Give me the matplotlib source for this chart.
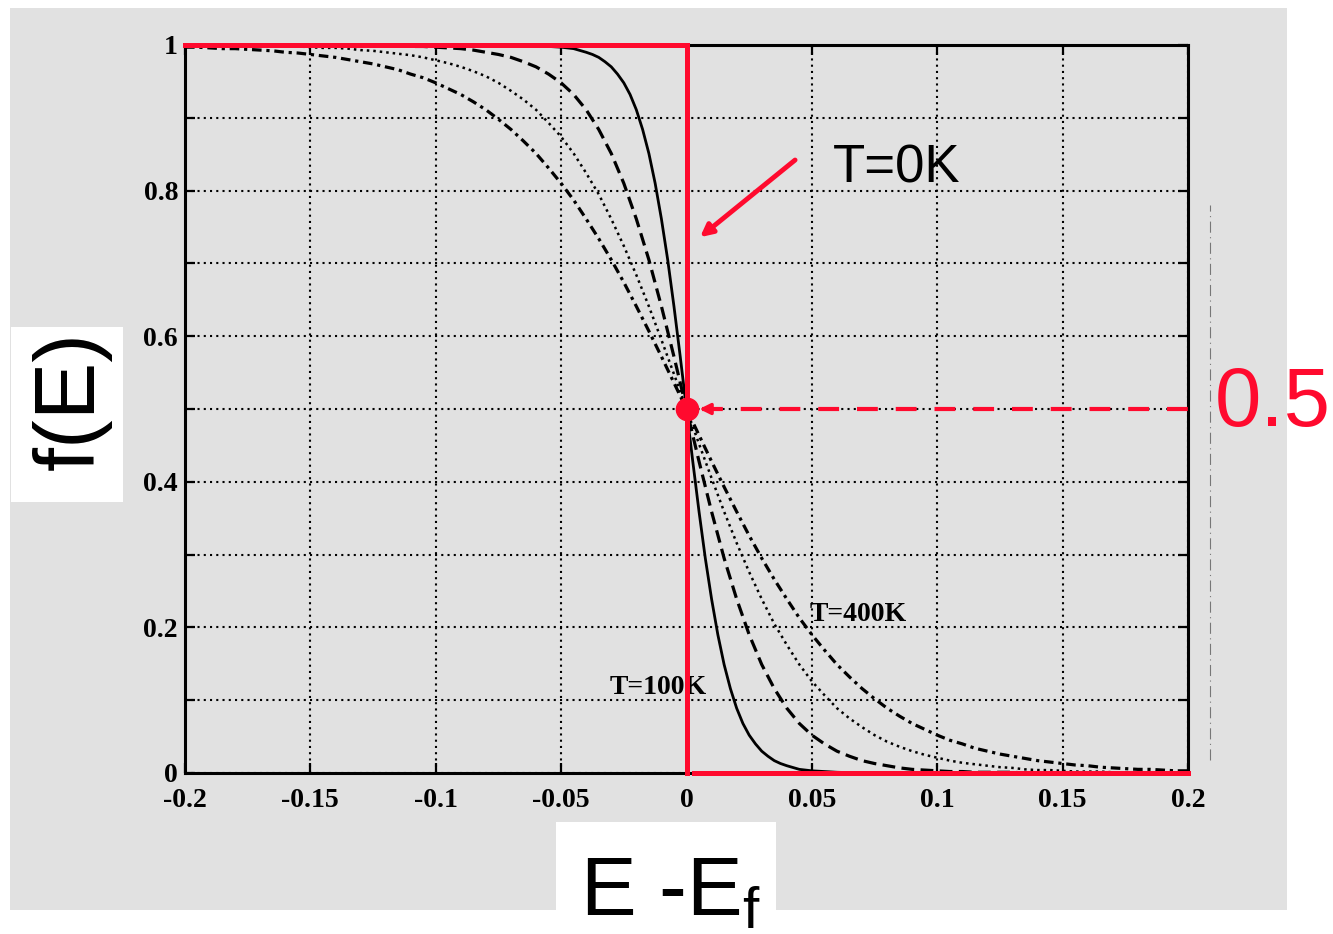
import numpy as np
import matplotlib
matplotlib.use("Agg")
import matplotlib.pyplot as plt
from matplotlib.patches import Rectangle
from matplotlib.lines import Line2D

# energy samples E - Ef (eV), f(E) values
energia = np.linspace(-0.2, 0.2, 81)

# T=100K is steep, so it is read on a finer grid around Ef
energia_100 = ([-0.2, -0.1, -0.07, -0.06, -0.055, -0.05, -0.045] +
               list(np.linspace(-0.04, 0.04, 33)) +
               [0.045, 0.05, 0.055, 0.06, 0.07, 0.1, 0.2])
f_100K = [1.0, 1.0, 1.0, 0.999, 0.998, 0.997, 0.995,
          0.990, 0.987, 0.983, 0.977, 0.970, 0.960, 0.948, 0.932, 0.911, 0.884, 0.851, 0.810,
          0.761, 0.705, 0.641, 0.572,
          0.5,
          0.428, 0.359, 0.295, 0.239, 0.190, 0.149, 0.116, 0.089, 0.068, 0.052, 0.040, 0.030,
          0.023, 0.017, 0.013, 0.010,
          0.005, 0.003, 0.002, 0.001, 0.0, 0.0, 0.0]

f_200K = ([1.0] * 14 +
          [0.999, 0.999, 0.999, 0.999, 0.998, 0.998, 0.997, 0.996, 0.995, 0.993, 0.990, 0.987, 0.983,
           0.977, 0.970, 0.960, 0.948, 0.932, 0.911, 0.884, 0.851, 0.810, 0.761, 0.705, 0.641, 0.572,
           0.5,
           0.428, 0.359, 0.295, 0.239, 0.190, 0.149, 0.116, 0.089, 0.068, 0.052, 0.040, 0.030, 0.023,
           0.017, 0.013, 0.010, 0.007, 0.005, 0.004, 0.003, 0.002, 0.002, 0.001, 0.001, 0.001, 0.001] +
          [0.0] * 14)

f_300K = [1.000, 0.999, 0.999, 0.999, 0.999, 0.999, 0.999, 0.998, 0.998, 0.998, 0.997, 0.996, 0.996,
          0.995, 0.993, 0.992, 0.990, 0.988, 0.986, 0.983, 0.979, 0.975, 0.970, 0.964, 0.957, 0.948,
          0.937, 0.925, 0.911, 0.893, 0.874, 0.851, 0.824, 0.795, 0.761, 0.724, 0.684, 0.641, 0.595,
          0.548,
          0.5,
          0.452, 0.405, 0.359, 0.316, 0.276, 0.239, 0.205, 0.176, 0.149, 0.126, 0.107, 0.089, 0.075,
          0.063, 0.052, 0.043, 0.036, 0.030, 0.025, 0.021, 0.017, 0.014, 0.012, 0.010, 0.008, 0.007,
          0.005, 0.004, 0.004, 0.003, 0.002, 0.002, 0.002, 0.001, 0.001, 0.001, 0.001, 0.001, 0.001,
          0.000]

f_400K = [0.997, 0.997, 0.996, 0.995, 0.995, 0.994, 0.993, 0.992, 0.990, 0.989, 0.987, 0.985, 0.983,
          0.980, 0.977, 0.974, 0.970, 0.966, 0.960, 0.955, 0.948, 0.940, 0.932, 0.922, 0.911, 0.898,
          0.884, 0.868, 0.851, 0.831, 0.810, 0.787, 0.761, 0.734, 0.705, 0.674, 0.641, 0.607, 0.572,
          0.536,
          0.5,
          0.464, 0.428, 0.393, 0.359, 0.326, 0.295, 0.266, 0.239, 0.213, 0.190, 0.169, 0.149, 0.132,
          0.116, 0.102, 0.089, 0.078, 0.068, 0.060, 0.052, 0.045, 0.040, 0.034, 0.030, 0.026, 0.023,
          0.020, 0.017, 0.015, 0.013, 0.011, 0.010, 0.008, 0.007, 0.006, 0.005, 0.005, 0.004, 0.003,
          0.003]

# T = 0K step
t0_energia = [-0.2, 0.0, 0.0]
t0_f = [1.0, 1.0, 0.0]
t0_alt_energia = [0.003, 0.2]
t0_alt_f = [0.0, 0.0]
yarim = 0.5

x_ticks = [-0.2, -0.15, -0.1, -0.05, 0, 0.05, 0.1, 0.15, 0.2]
x_etiket = ["-0.2", "-0.15", "-0.1", "-0.05", "0", "0.05", "0.1", "0.15", "0.2"]
y_ticks = [0, 0.1, 0.2, 0.3, 0.4, 0.5, 0.6, 0.7, 0.8, 0.9, 1.0]
y_etiket = ["0", "", "0.2", "", "0.4", "", "0.6", "", "0.8", "", "1"]

kirmizi = "#ff0a2e"
W, H = 1333, 934

fig = plt.figure(figsize=(W / 100, H / 100), dpi=100)
fig.patch.set_facecolor("white")

# gray scan background + white label boxes
fig.add_artist(Rectangle((10 / W, 1 - 910 / H), 1277 / W, 902 / H, transform=fig.transFigure,
                         facecolor="#e1e1e1", edgecolor="none", zorder=-10))
fig.add_artist(Rectangle((11 / W, 1 - 502 / H), 112 / W, 175 / H, transform=fig.transFigure,
                         facecolor="white", edgecolor="none", zorder=-9))
fig.add_artist(Rectangle((556 / W, 0), 220 / W, 112 / H, transform=fig.transFigure,
                         facecolor="white", edgecolor="none", zorder=-9))
fig.add_artist(Line2D([1210 / W, 1210 / W], [1 - 760 / H, 1 - 205 / H], transform=fig.transFigure,
                      color="#777777", lw=0.8, linestyle=(0, (10, 4, 1, 4)), zorder=-8))

ax = fig.add_axes([185 / W, 1 - 773 / H, 1003 / W, 728 / H])
ax.set_facecolor("none")

ax.plot(energia_100, f_100K, color="black", lw=2.0, linestyle="-")
ax.plot(energia, f_200K, color="black", lw=2.3, linestyle=(0, (4, 2)))
ax.plot(energia, f_300K, color="black", lw=1.8, linestyle=(0, (1, 1.6)))
ax.plot(energia, f_400K, color="black", lw=2.3, linestyle=(0, (3, 1.5, 1, 1.5)))

ax.set_xlim(-0.2, 0.2)
ax.set_ylim(0, 1)
ax.set_xticks(x_ticks)
ax.set_xticklabels(x_etiket)
ax.set_yticks(y_ticks)
ax.set_yticklabels(y_etiket)
ax.grid(True, color="black", lw=1.5, linestyle=(0, (1, 2.0)))
ax.tick_params(direction="in", length=7, width=1.6, top=True, right=True)
ax.tick_params(axis="x", pad=11)
ax.tick_params(axis="y", pad=5)
for lab in ax.get_xticklabels() + ax.get_yticklabels():
    lab.set_family("Liberation Serif")
    lab.set_fontweight("bold")
    lab.set_fontsize(20)
for s in ax.spines.values():
    s.set_linewidth(2.2)
    s.set_color("black")

ax.text(0.0493, 0.218, "T=400K", family="Liberation Serif", fontweight="bold", fontsize=20,
        va="center", ha="left")
ax.text(-0.0305, 0.117, "T=100K", family="Liberation Serif", fontweight="bold", fontsize=20,
        va="center", ha="left")

# red overlay
ax.plot(t0_energia, t0_f, color=kirmizi, lw=3.6, solid_joinstyle="miter", clip_on=False, zorder=5)
ax.plot(t0_alt_energia, t0_alt_f, color=kirmizi, lw=3.6, clip_on=False, zorder=5)
ax.plot([0.006, 0.2], [yarim, yarim], color=kirmizi, lw=3.0, linestyle=(0, (5, 4.3)), zorder=5)
ax.annotate("", xy=(0.004, yarim), xytext=(0.012, yarim),
            arrowprops=dict(arrowstyle="-|>", color=kirmizi, lw=2.5, mutation_scale=16), zorder=6)
ax.plot([0], [yarim], "o", color=kirmizi, markersize=16, zorder=6, clip_on=False)
ax.annotate("", xy=(0.0054, 0.736), xytext=(0.0433, 0.842),
            arrowprops=dict(arrowstyle="-|>", color=kirmizi, lw=3.5, mutation_scale=18,
                            shrinkA=0, shrinkB=0), zorder=6)
ax.text(0.0584, 0.831, "T=0K", family="Liberation Sans", fontsize=38, va="center", ha="left")

fig.text(1215 / W, 1 - 404 / H, "0.5", color=kirmizi, family="Liberation Sans", fontsize=60,
         va="center", ha="left")
fig.text(72 / W, 1 - 400 / H, "f(E)", rotation=90, family="Liberation Sans", fontsize=62,
         va="center", ha="center")
fig.text(580 / W, 1 - 915 / H, r"E -E$_\mathregular{f}$", family="Liberation Sans", fontsize=60,
         va="baseline", ha="left")

plt.savefig("out.png", dpi=100, facecolor=fig.get_facecolor())
